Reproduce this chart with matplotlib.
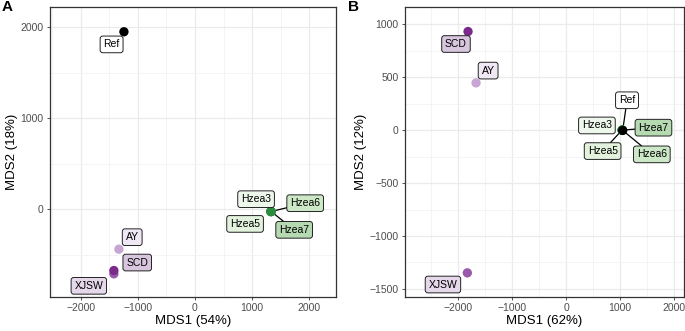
import matplotlib
matplotlib.use("Agg")
from matplotlib import pyplot as plt
from matplotlib.ticker import MultipleLocator
import numpy as np

plt.rcParams['font.family'] = ['Liberation Sans', 'DejaVu Sans']

# sample names and colours
samples = ['Ref', 'AY', 'SCD', 'XJSW', 'Hzea3', 'Hzea5', 'Hzea6', 'Hzea7']
point_cols = ['#000000', '#c8a6d3', '#7b2a8b', '#9a5aab', '#2b8b3e', '#2b8b3e', '#2b8b3e', '#2b8b3e']
label_fill = ['#ffffff', '#efe7f3', '#d8c6df', '#e4d8ea', '#eef7ec', '#e2f2dd', '#cce8c6', '#b5d9b1']

# panel A: MDS coordinates and label positions
a_x = [-1245, -1333, -1421, -1421, 1328, 1328, 1335, 1335]
a_y = [1952, -440, -675, -711, -26, -26, -26, -26]
a_lx = [-1461, -1100, -1012, -1860, 1070, 877, 1930, 1737]
a_ly = [1813, -308, -587, -843, 110, -162, 66, -227]
a_seg = [False, False, False, False, False, False, True, True]

# panel B
b_x = [1052, -1672, -1821, -1834, 1040, 1040, 1045, 1045]
b_y = [-3, 446, 931, -1348, 0, 0, 0, 0]
b_lx = [1132, -1448, -2045, -2287, 573, 679, 1593, 1623]
b_ly = [282, 562, 813, -1458, 44, -198, -229, 23]
b_seg = [True, False, False, False, False, True, True, True]


def mds_panel(ax, xs, ys, lxs, lys, segs, xlim, ylim, xlab, ylab, ymaj, tag):
    ax.set_xlim(xlim)
    ax.set_ylim(ylim)
    ax.xaxis.set_major_locator(MultipleLocator(1000))
    ax.xaxis.set_minor_locator(MultipleLocator(500))
    ax.yaxis.set_major_locator(MultipleLocator(ymaj))
    ax.yaxis.set_minor_locator(MultipleLocator(ymaj / 2))
    ax.grid(which='major', color='#ebebeb', lw=0.9)
    ax.grid(which='minor', color='#f3f3f3', lw=0.6)
    ax.set_axisbelow(True)
    for s in ax.spines.values():
        s.set_color('#333333')
        s.set_linewidth(0.9)
    ax.tick_params(which='major', length=2.5, width=0.6, color='#333333',
                   labelsize=7.5, labelcolor='#4d4d4d', pad=2)
    ax.tick_params(which='minor', length=0)
    ax.xaxis.set_major_formatter(plt.FuncFormatter(lambda v, p: f'{int(v)}'.replace('-', '\u2212')))
    ax.yaxis.set_major_formatter(plt.FuncFormatter(lambda v, p: f'{int(v)}'.replace('-', '\u2212')))
    ax.set_xlabel(xlab, fontsize=9.5, labelpad=1)
    ax.set_ylabel(ylab, fontsize=9.5, labelpad=2)

    # draw the points in reverse so Ref sits on top of the green cluster
    order = [4, 5, 6, 7, 1, 3, 2, 0]
    for i in order:
        ax.scatter(xs[i], ys[i], s=45, color=point_cols[i], edgecolors='none', zorder=3)
    for i in range(len(samples)):
        if segs[i]:
            ax.plot([xs[i], lxs[i]], [ys[i], lys[i]], color='black', lw=0.9, zorder=2)
        ax.text(lxs[i], lys[i], samples[i], fontsize=7.5, ha='center', va='center', zorder=4,
                bbox=dict(boxstyle='round,pad=0.32,rounding_size=0.25', fc=label_fill[i],
                          ec='#222222', lw=0.7))
    ax.text(-0.168 if tag == 'A' else -0.205, 1.025, tag, transform=ax.transAxes,
            fontsize=11, fontweight='bold', va='top', ha='left')


fig = plt.figure(figsize=(6.85, 3.31), dpi=100)
ax1 = fig.add_axes([0.073, 0.103, 0.4175, 0.876])
ax2 = fig.add_axes([0.591, 0.103, 0.4075, 0.876])

mds_panel(ax1, a_x, a_y, a_lx, a_ly, a_seg, (-2540, 2470), (-965, 2225),
          'MDS1 (54%)', 'MDS2 (18%)', 1000, 'A')
mds_panel(ax2, b_x, b_y, b_lx, b_ly, b_seg, (-2995, 2190), (-1575, 1163),
          'MDS1 (62%)', 'MDS2 (12%)', 500, 'B')

fig.savefig('out.png', dpi=100)
